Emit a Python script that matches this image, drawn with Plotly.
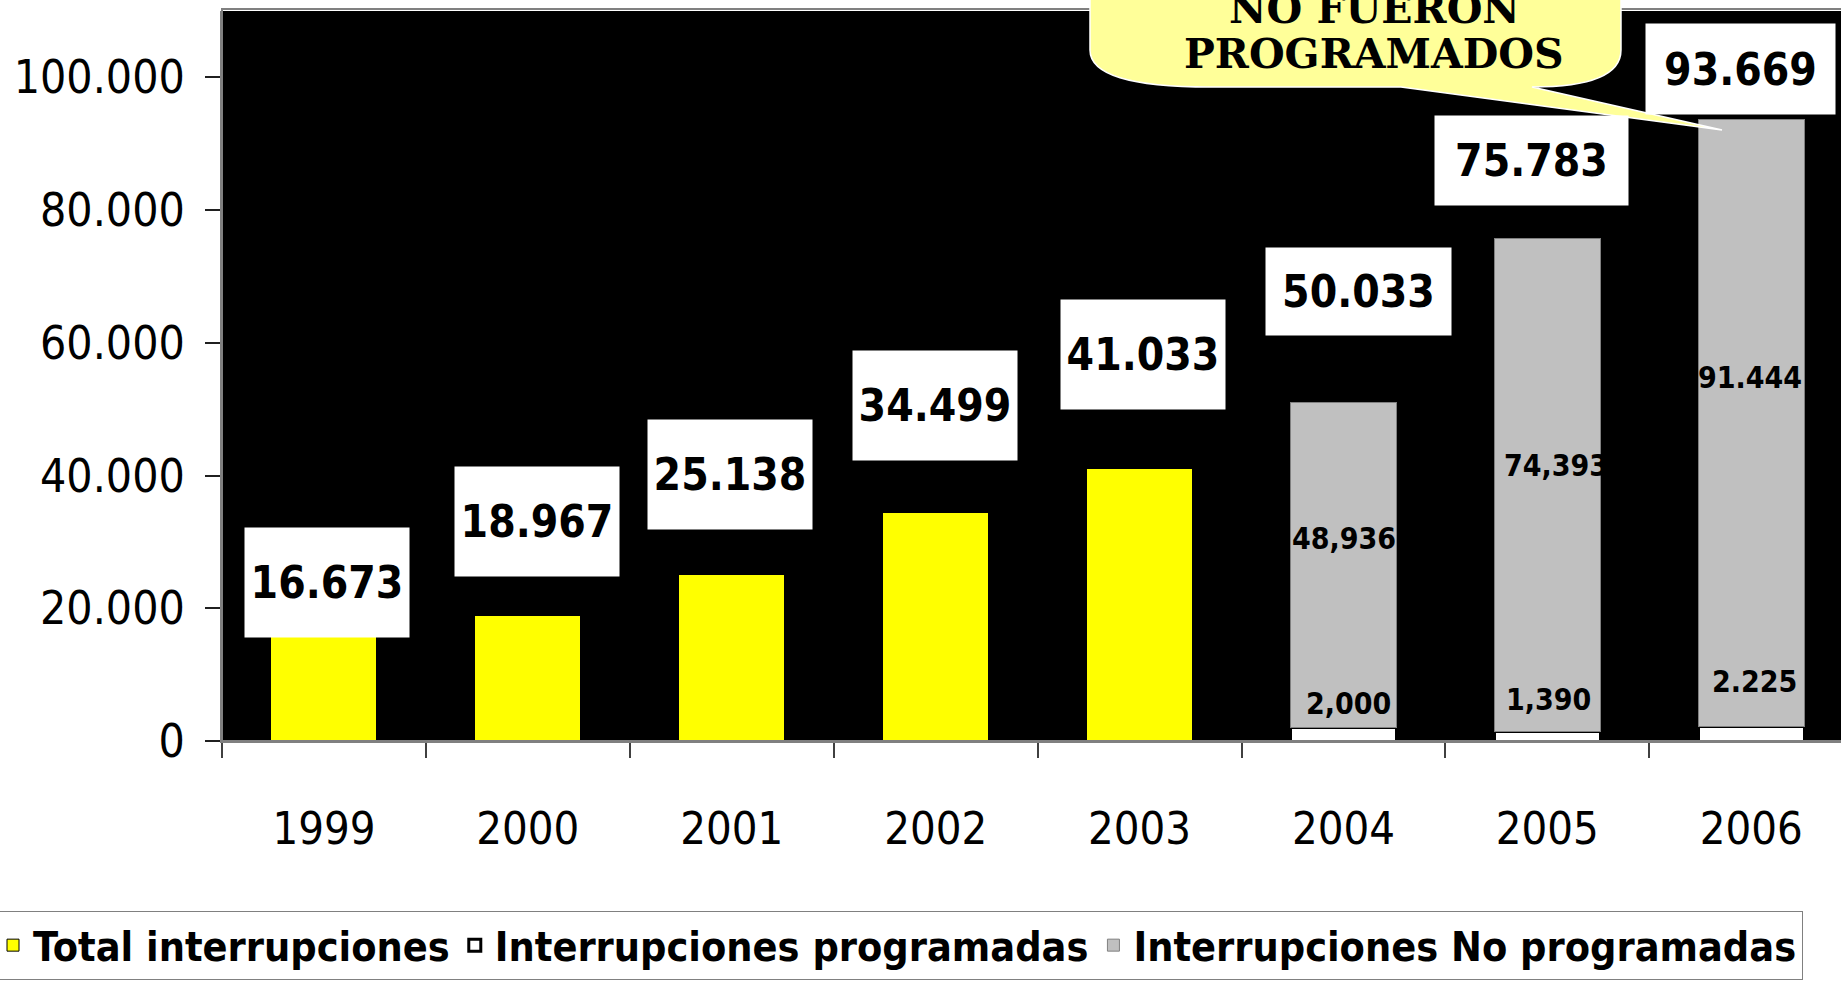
import plotly.graph_objects as go

# ---------------- data ----------------
years = ["1999", "2000", "2001", "2002", "2003", "2004", "2005", "2006"]
total_interrupciones = [16673, 18967, 25138, 34499, 41033, None, None, None]
programadas = [None, None, None, None, None, 2000, 1390, 2225]
no_programadas = [None, None, None, None, None, 48936, 74393, 91444]
total_labels = ["16.673", "18.967", "25.138", "34.499", "41.033", "50.033", "75.783", "93.669"]
total_values = [16673, 18967, 25138, 34499, 41033, 50033, 75783, 93669]
prog_labels = ["2,000", "1,390", "2.225"]
noprog_labels = ["48,936", "74,393", "91.444"]
y_tick_vals = [0, 20000, 40000, 60000, 80000, 100000]
y_tick_text = ["0", "20.000", "40.000", "60.000", "80.000", "100.000"]
series_names = ["Total interrupciones", "Interrupciones programadas", "Interrupciones No programadas"]
callout_lines = ["NO FUERON", "PROGRAMADOS"]

# ---------------- layout constants ----------------
W, H = 1841, 981
ML, MT, MB = 222, 11, 240
PW, PH = W - ML, H - MT - MB
CAT_W = 203.9
COND = "DejaVu Sans Condensed, DejaVu Sans, sans-serif"
SERIF = "DejaVu Serif, Liberation Serif, serif"


def px(x):
    return (x - ML) / PW


def py(y):
    return (MT + PH - y) / PH


# pixel offsets of the value labels (style)
total_xshift = [3, 9, -2, -1, 3, 15, -16, -11]
total_yshift = [48, 94, 100, 107, 114, 117, 78, 50]
total_box_w = [164, 164, 164, 164, 164, 185, 193, 189]
total_box_h = [109, 109, 109, 109, 109, 87, 89, 90]
prog_xshift = [5, 1, 3]
prog_yshift = [24, 32, 45]
noprog_xshift = [1, 9, -1]
noprog_yshift = [27, 19, 45]

fig = go.Figure()
fig.add_trace(go.Bar(
    x=years, y=total_interrupciones, name=series_names[0],
    marker=dict(color="#FFFF00", line=dict(color="#000000", width=1)),
))
fig.add_trace(go.Bar(
    x=years, y=programadas, name=series_names[1],
    marker=dict(color="#FFFFFF", line=dict(color="#000000", width=3)),
))
fig.add_trace(go.Bar(
    x=years, y=no_programadas, name=series_names[2],
    marker=dict(color="#C0C0C0", line=dict(color="#808080", width=1)),
))

annotations = []
for i, (v, t) in enumerate(zip(total_values, total_labels)):
    annotations.append(dict(
        x=i, y=v, xref="x", yref="y", text=t, showarrow=False,
        xanchor="center", yanchor="middle",
        xshift=total_xshift[i], yshift=total_yshift[i],
        bgcolor="#FFFFFF", borderpad=0,
        width=total_box_w[i], height=total_box_h[i], valign="middle",
        font=dict(family=COND, size=44, color="#000000", weight="bold"),
    ))
off = 5
for j, t in enumerate(prog_labels):
    i = off + j
    annotations.append(dict(
        x=i, y=programadas[i], xref="x", yref="y", text=t, showarrow=False,
        xanchor="center", yanchor="middle",
        xshift=prog_xshift[j], yshift=prog_yshift[j],
        font=dict(family=COND, size=30, color="#000000", weight="bold"),
    ))
for j, t in enumerate(noprog_labels):
    i = off + j
    mid = programadas[i] + no_programadas[i] / 2
    annotations.append(dict(
        x=i, y=mid, xref="x", yref="y", text=t, showarrow=False,
        xanchor="center", yanchor="middle",
        xshift=noprog_xshift[j], yshift=noprog_yshift[j],
        font=dict(family=COND, size=30, color="#000000", weight="bold"),
    ))
for t, yy in zip(callout_lines, [9, 54]):
    annotations.append(dict(
        x=px(1374), y=py(yy), xref="paper", yref="paper", text=t,
        xanchor="center", yanchor="middle", showarrow=False,
        font=dict(family=SERIF, size=41, color="#000000", weight="bold"),
    ))


def P(x, y):
    return f"{px(x):.5f},{py(y):.5f}"


callout = (
    f"M{P(1090, -80)} L{P(1090, 50)} Q{P(1090, 87)} {P(1210, 87)} "
    f"L{P(1401, 87)} L{P(1722, 130)} L{P(1532, 87)} "
    f"Q{P(1621, 87)} {P(1621, 50)} L{P(1621, -80)} Z"
)
shapes = [
    dict(type="rect", xref="paper", yref="paper", x0=0, x1=1.05, y0=0, y1=py(9),
         line=dict(color="#808080", width=2), fillcolor="rgba(0,0,0,0)", layer="above"),
    dict(type="path", xref="paper", yref="paper", path=callout,
         fillcolor="#FFFF99", line=dict(color="#FFFFFF", width=1.5), layer="above"),
]

fig.update_layout(
    width=W, height=H,
    margin=dict(l=ML, r=0, t=MT, b=MB, autoexpand=False),
    paper_bgcolor="#FFFFFF", plot_bgcolor="#000000",
    barmode="stack", bargap=0.48,
    showlegend=True,
    legend=dict(
        orientation="h", x=px(-8), xanchor="left", y=py(911), yanchor="top",
        font=dict(family=COND, size=41, color="#000000", weight="bold"),
        bgcolor="#FFFFFF", bordercolor="#808080", borderwidth=1,
        traceorder="normal", itemclick=False,
    ),
    annotations=annotations,
    shapes=shapes,
    xaxis=dict(
        type="category", range=[-0.5, -0.5 + PW / CAT_W],
        showgrid=False, zeroline=False, showline=True, linecolor="#808080", linewidth=2,
        ticks="outside", tickson="boundaries", ticklen=15, tickwidth=1.5, tickcolor="#404040",
        tickfont=dict(family=COND, size=45, color="#000000"),
        ticklabelstandoff=47,
    ),
    yaxis=dict(
        range=[0, 110000], tickvals=y_tick_vals, ticktext=y_tick_text,
        showgrid=False, zeroline=False, showline=True, linecolor="#808080", linewidth=2,
        ticks="outside", ticklen=15, tickwidth=1.5, tickcolor="#202020",
        tickfont=dict(family=COND, size=46, color="#000000"),
        ticklabelstandoff=11,
    ),
)

fig.write_html("out.html", config={"displayModeBar": False},
               post_script="document.body.style.margin='0';")
